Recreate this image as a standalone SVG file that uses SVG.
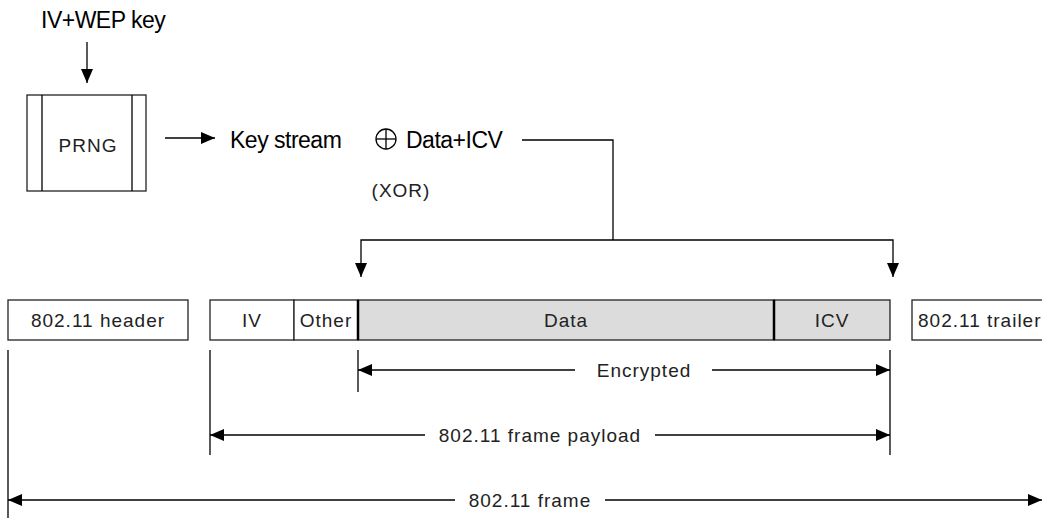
<svg xmlns="http://www.w3.org/2000/svg" width="1042" height="518" viewBox="0 0 1042 518">
  <style>
    .ln { stroke: #000; stroke-width: 1.3; fill: none; }
    .box { stroke: #222; stroke-width: 1.3; fill: #fff; }
    .enc { stroke: #222; stroke-width: 1.3; fill: #dcdcdc; }
    .big { font-family: "Liberation Sans", Arial, sans-serif; font-size: 23px; letter-spacing: -0.5px; fill: #000; }
    .lbl { font-family: "Liberation Sans", Arial, sans-serif; font-size: 19px; letter-spacing: 1px; fill: #222; }
    .mid { text-anchor: middle; }
  </style>
  <defs>
    <!-- filled triangular arrowhead, 14 long by 12 wide -->
    <marker id="ah" viewBox="0 0 14 12" refX="14" refY="6" markerWidth="14" markerHeight="12" markerUnits="userSpaceOnUse" orient="auto-start-reverse">
      <path d="M0,0 L14,6 L0,12 Z" fill="#000"/>
    </marker>
  </defs>

  <!-- key input and generator -->
  <g id="key-input">
    <text class="big" x="41" y="28">IV+WEP key</text>
  </g>
  <g id="prng">
    <rect class="box" x="27" y="95" width="119" height="96"/>
    <line class="ln" x1="42" y1="95" x2="42" y2="191"/>
    <line class="ln" x1="132" y1="95" x2="132" y2="191"/>
    <text class="lbl mid" x="88" y="152">PRNG</text>
  </g>
  <g id="xor-expr">
    <text class="big" x="230" y="148">Key stream</text>
    <circle class="ln" cx="386" cy="139" r="10"/>
    <line class="ln" x1="376" y1="139" x2="396" y2="139"/>
    <line class="ln" x1="386" y1="129" x2="386" y2="149"/>
    <text class="big" x="406" y="148">Data+ICV</text>
    <text class="lbl mid" x="401" y="197">(XOR)</text>
  </g>

  <!-- frame fields -->
  <g id="header">
    <rect class="box" x="8" y="300" width="180" height="40"/>
    <text class="lbl mid" x="98" y="327">802.11 header</text>
  </g>
  <g id="iv">
    <rect class="box" x="210" y="300" width="84" height="40"/>
    <text class="lbl mid" x="252" y="327">IV</text>
  </g>
  <g id="other">
    <rect class="box" x="294" y="300" width="64" height="40"/>
    <text class="lbl mid" x="326" y="327">Other</text>
  </g>
  <g id="data">
    <rect class="enc" x="358" y="300" width="416" height="40"/>
    <text class="lbl mid" x="566" y="327">Data</text>
  </g>
  <g id="icv">
    <rect class="enc" x="774" y="300" width="116" height="40"/>
    <text class="lbl mid" x="832" y="327">ICV</text>
  </g>
  <line x1="358" y1="300" x2="358" y2="340" stroke="#000" stroke-width="2.5"/>
  <line x1="774" y1="300" x2="774" y2="340" stroke="#000" stroke-width="2.5"/>
  <g id="trailer">
    <rect class="box" x="912" y="300" width="140" height="40"/>
    <text class="lbl" x="918" y="327">802.11 trailer</text>
  </g>

  <!-- connectors -->
  <g id="connectors">
    <line class="ln" x1="87" y1="42" x2="87" y2="83" marker-end="url(#ah)"/>
    <line class="ln" x1="165" y1="138" x2="215" y2="138" marker-end="url(#ah)"/>
    <polyline class="ln" points="522,140 613,140 613,240"/>
    <polyline class="ln" points="361,277 361,240 893,240 893,277" marker-start="url(#ah)" marker-end="url(#ah)"/>

    <!-- extent ticks -->
    <line class="ln" x1="8" y1="350" x2="8" y2="518"/>
    <line class="ln" x1="210" y1="350" x2="210" y2="455"/>
    <line class="ln" x1="358" y1="350" x2="358" y2="392"/>
    <line class="ln" x1="890" y1="350" x2="890" y2="455"/>

    <!-- extents -->
    <line class="ln" x1="575" y1="370" x2="358" y2="370" marker-end="url(#ah)"/>
    <line class="ln" x1="712" y1="370" x2="890" y2="370" marker-end="url(#ah)"/>
    <line class="ln" x1="425" y1="435" x2="210" y2="435" marker-end="url(#ah)"/>
    <line class="ln" x1="655" y1="435" x2="890" y2="435" marker-end="url(#ah)"/>
    <line class="ln" x1="455" y1="500" x2="8" y2="500" marker-end="url(#ah)"/>
    <line class="ln" x1="605" y1="500" x2="1042" y2="500" marker-end="url(#ah)"/>
  </g>
  <text class="lbl mid" x="644" y="377">Encrypted</text>
  <text class="lbl mid" x="540" y="442">802.11 frame payload</text>
  <text class="lbl mid" x="530" y="507">802.11 frame</text>
</svg>
